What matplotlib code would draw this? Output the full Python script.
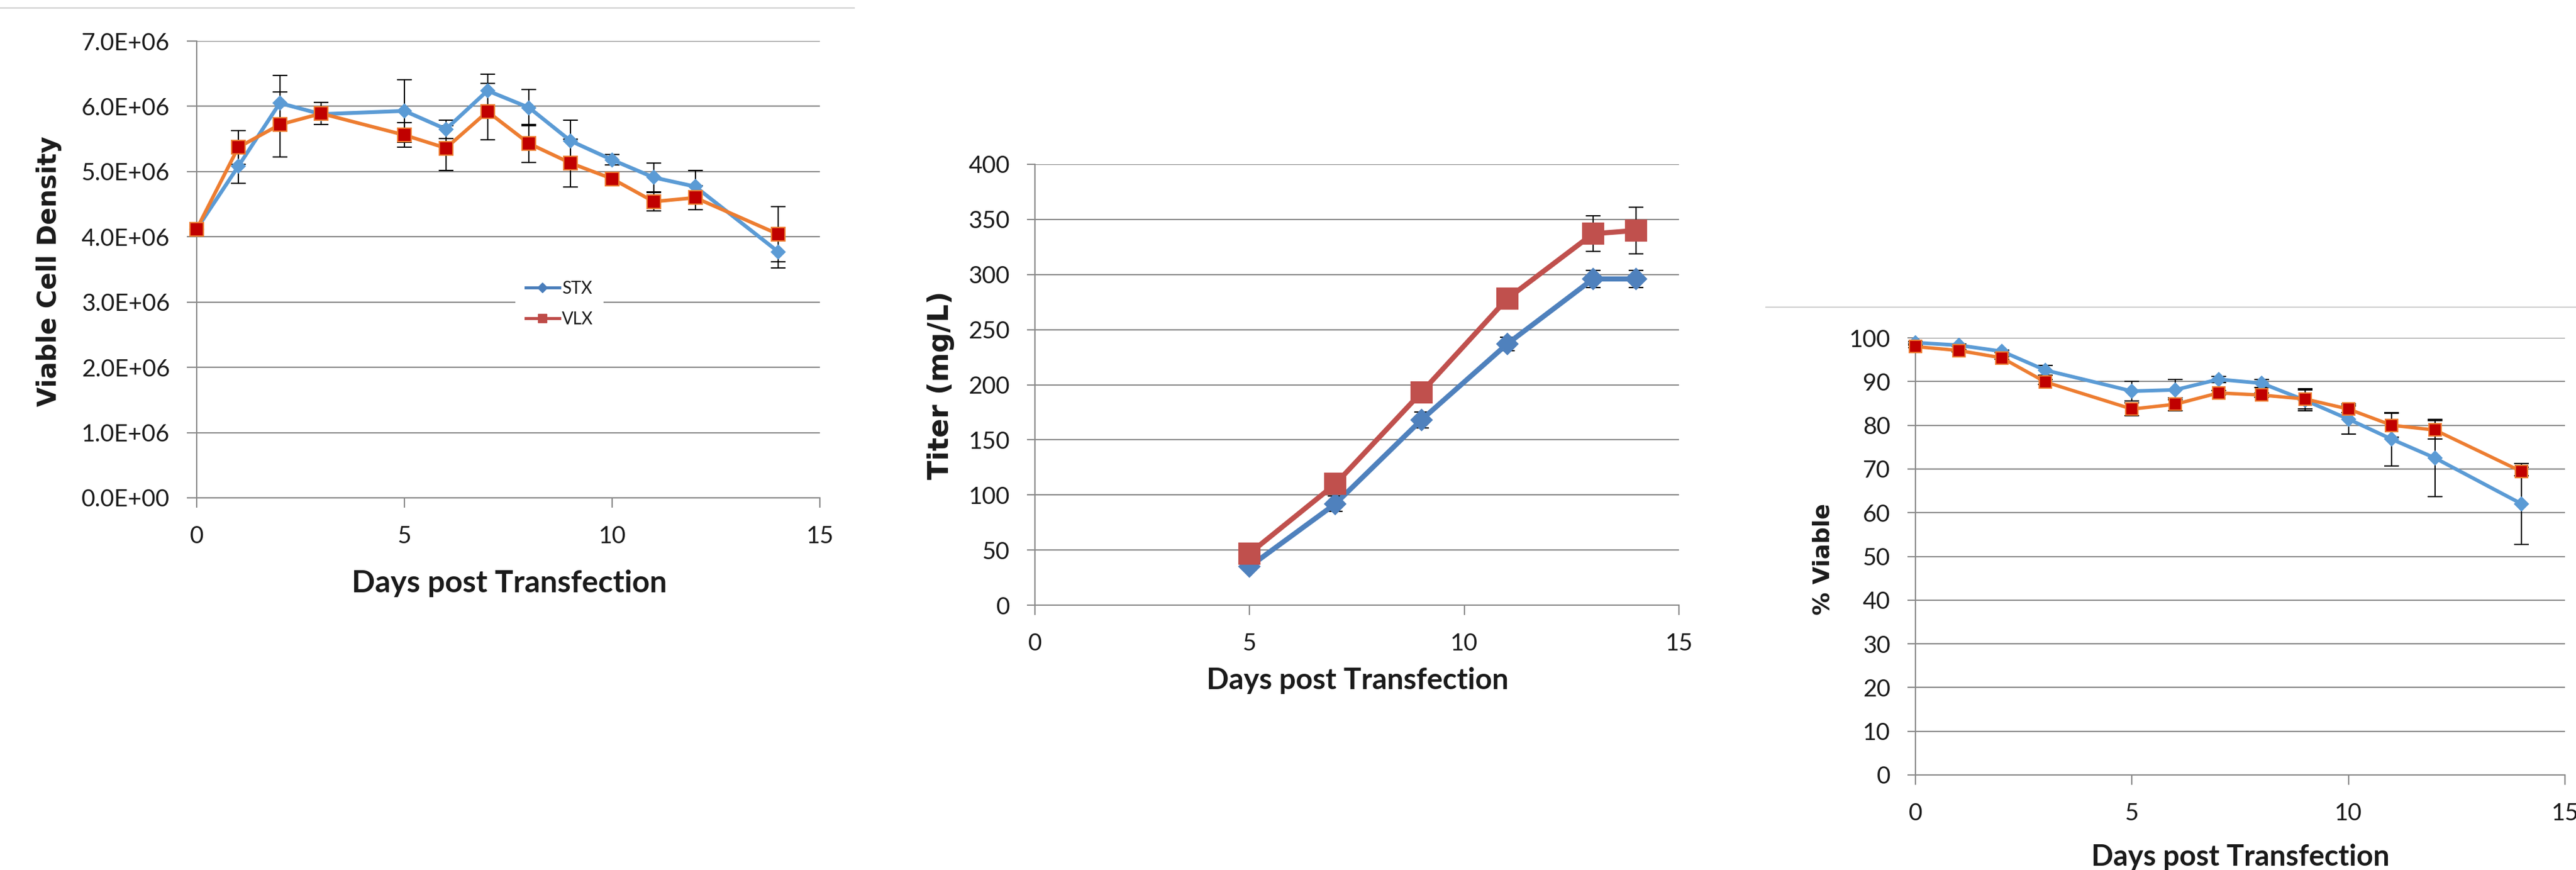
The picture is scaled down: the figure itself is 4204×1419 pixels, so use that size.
import matplotlib
matplotlib.use('Agg')
import matplotlib.pyplot as plt
from matplotlib.lines import Line2D
from matplotlib.ticker import FuncFormatter, MultipleLocator

W, H, DPI = 4204, 1419, 100

# viable cell density, cells/mL
vcd_days = [0, 1, 2, 3, 5, 6, 7, 8, 9, 10, 11, 12, 14]
stx_vcd = [4.12e6, 5.08e6, 6.05e6, 5.88e6, 5.93e6, 5.65e6, 6.24e6, 5.98e6, 5.47e6, 5.18e6, 4.91e6, 4.77e6, 3.77e6]
stx_vcd_err = [0.0, 0.26e6, 0.42e6, 0.08e6, 0.48e6, 0.14e6, 0.25e6, 0.28e6, 0.32e6, 0.08e6, 0.22e6, 0.25e6, 0.25e6]
vlx_vcd = [4.12e6, 5.37e6, 5.72e6, 5.89e6, 5.56e6, 5.36e6, 5.92e6, 5.43e6, 5.13e6, 4.89e6, 4.54e6, 4.60e6, 4.04e6]
vlx_vcd_err = [0.0, 0.26e6, 0.50e6, 0.17e6, 0.19e6, 0.34e6, 0.43e6, 0.29e6, 0.37e6, 0.05e6, 0.14e6, 0.18e6, 0.42e6]

# titer, mg/L
titer_days = [5, 7, 9, 11, 13, 14]
stx_titer = [35, 92, 168, 237, 296, 296]
stx_titer_err = [3, 7, 7, 6, 8, 8]
vlx_titer = [47, 110, 193, 278, 337, 340]
vlx_titer_err = [2, 3, 3, 3, 16, 21]

# viability, %
via_days = [0, 1, 2, 3, 5, 6, 7, 8, 9, 10, 11, 12, 14]
stx_via = [98.9, 98.3, 96.9, 92.6, 87.8, 88.1, 90.5, 89.6, 85.7, 81.4, 76.8, 72.5, 62.0]
stx_via_err = [0.3, 0.3, 0.3, 1.1, 2.2, 2.3, 0.7, 0.9, 2.4, 3.4, 6.1, 8.8, 9.3]
vlx_via = [98.0, 97.1, 95.4, 89.9, 83.7, 84.8, 87.4, 86.9, 86.0, 83.7, 80.0, 78.9, 69.4]
vlx_via_err = [0.3, 0.3, 0.3, 0.5, 1.5, 1.5, 0.5, 0.5, 2.3, 0.8, 2.7, 2.1, 1.0]

GRID = '#898989'
TEXT = '#1a1a1a'
BLUE, ORANGE, DARKRED = '#5B9BD5', '#ED7D31', '#C00000'
BLUE2, RED2 = '#4F81BD', '#C0504D'

plt.rcParams['font.family'] = ['Lato', 'DejaVu Sans']
TITLE_FONT = ['DejaVu Sans']


def box(left, top, right, bottom):
    return [left / W, 1 - bottom / H, (right - left) / W, (bottom - top) / H]


def style_axes(ax, ymax, ystep, ytick_len):
    ax.set_xlim(0, 15)
    ax.set_ylim(0, ymax)
    ax.xaxis.set_major_locator(MultipleLocator(5))
    ax.yaxis.set_major_locator(MultipleLocator(ystep))
    ax.grid(axis='y', color=GRID, lw=1.5)
    ax.set_axisbelow(True)
    for side in ('top', 'right'):
        ax.spines[side].set_visible(False)
    for side in ('left', 'bottom'):
        ax.spines[side].set_color(GRID)
        ax.spines[side].set_linewidth(1.5)
    ax.tick_params(direction='out', color=GRID, width=1.5, labelsize=28,
                   labelcolor=TEXT)
    ax.tick_params(axis='y', length=ytick_len, pad=20)
    ax.tick_params(axis='x', length=11.5, pad=21)


def draw_series(ax, days, vals, err, color, marker, ms, mfc, mec, lw, z):
    ax.errorbar(days, vals, yerr=err, fmt='none', ecolor='black',
                elinewidth=1.5, capsize=8.5, capthick=1.5, zorder=3,
                clip_on=False)
    ax.plot(days, vals, color=color, lw=lw, marker=marker, ms=ms, mfc=mfc,
            mec=mec, mew=1.6, zorder=z, clip_on=False)


fig = plt.figure(figsize=(W / DPI, H / DPI), dpi=DPI)

# --- viable cell density ---
ax1 = fig.add_axes(box(321, 67, 1338, 812))
style_axes(ax1, 7e6, 1e6, 11.5)
ax1.yaxis.set_major_formatter(FuncFormatter(lambda v, p: f'{v:.1E}'))
draw_series(ax1, vcd_days, stx_vcd, stx_vcd_err, BLUE, 'D', 11.5, BLUE, BLUE, 4.5, 4)
draw_series(ax1, vcd_days, vlx_vcd, vlx_vcd_err, ORANGE, 's', 16, DARKRED, ORANGE, 4.2, 5)
handles = [
    Line2D([], [], color='#4A7EBB', lw=3.5, marker='D', ms=8, mfc='#4A7EBB', mec='#4A7EBB'),
    Line2D([], [], color='#BE4B48', lw=3.5, marker='s', ms=10, mfc='#BE4B48', mec='#BE4B48'),
]
leg = ax1.legend(handles, ['STX', 'VLX'], loc='center',
                 bbox_to_anchor=(913 / W, 1 - 496 / H), bbox_transform=fig.transFigure,
                 fontsize=20, handlelength=2.0, handletextpad=0.15,
                 labelspacing=0.85, borderpad=0.6, frameon=True, fancybox=False)
leg.get_frame().set_edgecolor('none')
leg.get_frame().set_facecolor('white')
leg.get_frame().set_alpha(1)
for t in leg.get_texts():
    t.set_color(TEXT)
fig.text(831 / W, 1 - 952 / H, 'Days post Transfection', fontsize=36,
         fontweight='bold', ha='center', va='center', color=TEXT)
fig.text(80 / W, 1 - 442 / H, 'Viable Cell Density', fontsize=30,
         fontweight='bold', family=TITLE_FONT, rotation=90,
         ha='center', va='center', color=TEXT)

# --- titer ---
ax2 = fig.add_axes(box(1689, 268, 2740, 987))
style_axes(ax2, 400, 50, 9.5)
draw_series(ax2, titer_days, stx_titer, stx_titer_err, BLUE2, 'D', 17, BLUE2, BLUE2, 6, 4)
draw_series(ax2, titer_days, vlx_titer, vlx_titer_err, RED2, 's', 24, RED2, RED2, 6, 5)
fig.text(2215 / W, 1 - 1110 / H, 'Days post Transfection', fontsize=34.5,
         fontweight='bold', ha='center', va='center', color=TEXT)
fig.text(1535 / W, 1 - 628 / H, 'Titer (mg/L)', fontsize=33,
         fontweight='bold', family=TITLE_FONT, rotation=90,
         ha='center', va='center', color=TEXT)

# --- viability ---
ax3 = fig.add_axes(box(3126, 551, 4186, 1264))
style_axes(ax3, 100, 10, 9.5)
draw_series(ax3, via_days, stx_via, stx_via_err, BLUE, 'D', 11, BLUE, BLUE, 4.3, 4)
draw_series(ax3, via_days, vlx_via, vlx_via_err, ORANGE, 's', 15, DARKRED, ORANGE, 4.0, 5)
fig.text(3656 / W, 1 - 1398 / H, 'Days post Transfection', fontsize=34,
         fontweight='bold', ha='center', va='center', color=TEXT)
fig.text(2975 / W, 1 - 912 / H, '% Viable', fontsize=27,
         fontweight='bold', family=TITLE_FONT, rotation=90,
         ha='center', va='center', color=TEXT)

# thin separator rules along the top of the left and right charts
fig.add_artist(Line2D([0, 1394 / W], [1 - 13 / H] * 2, color='#d0d0d0', lw=1.5))
fig.add_artist(Line2D([2882 / W, 1], [1 - 501 / H] * 2, color='#d0d0d0', lw=1.5))

fig.savefig('out.png', dpi=DPI, facecolor='white')
